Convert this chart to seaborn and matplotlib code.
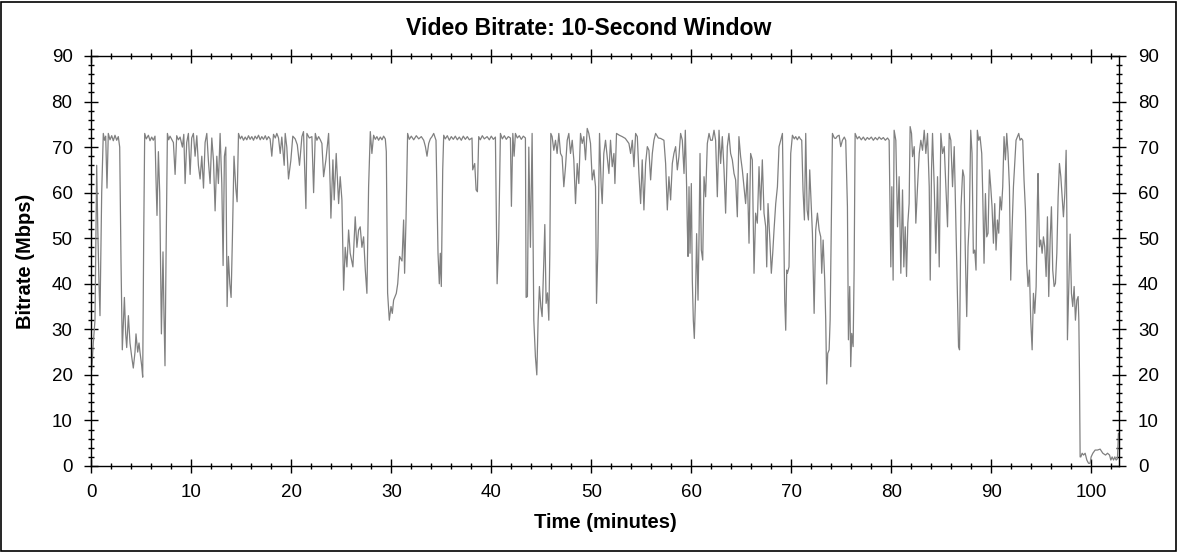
import matplotlib
matplotlib.use("Agg")
import matplotlib.pyplot as plt
from matplotlib.patches import Rectangle
from matplotlib.ticker import MultipleLocator
import pandas as pd
import seaborn as sns

TITLE = "Video Bitrate: 10-Second Window"
X_LABEL = "Time (minutes)"
Y_LABEL = "Bitrate (Mbps)"

# (minute, Mbps), one list per stretch of the trace
seg_0_17 = [
    (0.04, 21), (0.2, 27), (0.37, 32), (0.54, 66), (0.65, 52), (0.77, 40), (0.87, 33), (1.04, 60),
    (1.2, 73), (1.32, 71.5), (1.44, 72.4), (1.57, 61), (1.7, 73), (1.87, 71.6), (2.04, 72.5),
    (2.2, 71.4), (2.37, 72.6), (2.54, 71.5), (2.7, 72.3), (2.84, 70), (2.97, 45), (3.1, 25.5),
    (3.31, 37), (3.44, 29), (3.54, 26), (3.71, 33), (3.87, 27), (4.04, 24), (4.2, 21.5), (4.37, 25),
    (4.47, 29), (4.64, 25), (4.77, 27), (4.87, 25), (5.04, 22), (5.14, 19.5), (5.24, 50), (5.34, 73),
    (5.5, 71.8), (5.71, 72.6), (5.87, 71.4), (6.04, 72.2), (6.2, 71.5), (6.37, 72.4), (6.47, 63),
    (6.57, 55), (6.71, 69), (6.84, 60), (7.01, 29), (7.11, 40), (7.17, 47), (7.27, 33), (7.37, 22),
    (7.47, 45), (7.61, 73), (7.74, 71.6), (7.87, 72.4), (8.04, 71.7), (8.21, 71), (8.38, 64),
    (8.54, 72.5), (8.71, 71.6), (8.88, 72.2), (9.11, 70), (9.25, 72.8), (9.38, 62), (9.54, 71),
    (9.71, 73), (9.88, 64), (10.04, 72), (10.21, 73), (10.38, 68), (10.55, 72.5), (10.71, 66),
    (10.88, 63), (11.05, 68), (11.22, 61), (11.38, 71), (11.55, 73), (11.71, 67), (11.88, 62),
    (12.05, 72), (12.22, 67), (12.38, 56), (12.55, 68), (12.71, 62), (12.88, 73), (13.05, 62),
    (13.18, 44), (13.31, 68), (13.45, 70), (13.58, 35), (13.71, 46), (13.85, 40), (13.98, 37),
    (14.11, 50), (14.27, 68), (14.45, 61), (14.58, 58), (14.72, 73), (14.9, 71.8), (15.05, 72.4),
    (15.22, 71.5), (15.39, 72.2), (15.55, 71.6), (15.72, 72.5), (15.88, 71.7), (16.05, 72.3),
    (16.22, 71.5), (16.38, 72.4), (16.55, 71.8), (16.72, 72.6), (16.89, 71.6), (17.05, 72.3),
    (17.22, 71.7), (17.4, 72.5), (17.55, 71.6), (17.72, 72.3), (17.88, 71.8),
]

seg_18_34 = [
    (18.05, 68), (18.22, 72.8), (18.4, 72), (18.55, 73), (18.72, 72), (18.89, 68.6), (19.05, 72.2),
    (19.29, 66), (19.39, 73), (19.55, 70), (19.72, 63), (19.95, 67), (20.15, 72.4), (20.39, 71.8),
    (20.6, 70.5), (20.82, 66), (21.06, 72.3), (21.22, 73.4), (21.46, 56.5), (21.56, 73), (21.8, 72),
    (22.06, 72.3), (22.23, 60), (22.4, 73), (22.56, 71.5), (22.73, 72.3), (22.9, 71.6), (23.06, 70.8),
    (23.23, 63.5), (23.46, 67.2), (23.73, 73), (23.89, 61.3), (23.96, 54.4), (24.16, 67.2),
    (24.29, 58.4), (24.49, 68.6), (24.73, 57.6), (24.89, 63.5), (25.06, 58.4), (25.23, 38.6),
    (25.39, 48), (25.56, 43.7), (25.73, 51.8), (25.89, 46.7), (26.16, 43.7), (26.39, 54.7),
    (26.56, 48), (26.73, 51.8), (26.89, 52.5), (27.06, 48), (27.23, 50.3), (27.4, 43), (27.56, 37.9),
    (27.73, 61.3), (27.9, 73.4), (28.06, 68.6), (28.23, 72.6), (28.4, 71.7), (28.56, 72.3),
    (28.73, 71.5), (28.9, 72.2), (29.07, 71.6), (29.23, 72.4), (29.4, 71.8), (29.5, 69), (29.63, 38),
    (29.8, 32), (29.97, 35), (30.1, 33.5), (30.23, 36.4), (30.5, 37.9), (30.64, 40), (30.83, 46),
    (31.07, 45), (31.23, 54), (31.33, 42.3), (31.47, 54), (31.63, 73), (31.8, 71.7), (32.0, 72.4),
    (32.24, 71.6), (32.5, 72.5), (32.74, 71.8), (33.0, 72.3), (33.24, 71.5), (33.41, 70.1),
    (33.57, 68), (33.74, 70.8), (33.9, 71.8), (34.07, 72.3), (34.24, 73), (34.47, 71.5),
]

seg_35_51 = [
    (34.67, 46.7), (34.8, 40), (34.9, 46.7), (35.0, 39.4), (35.14, 65), (35.24, 72.6), (35.4, 71.8),
    (35.6, 72.5), (35.8, 71.5), (36.0, 72.3), (36.2, 71.7), (36.4, 72.4), (36.6, 71.6), (36.8, 72.2),
    (37.0, 71.5), (37.2, 72.4), (37.4, 71.7), (37.6, 72.3), (37.8, 71.6), (38.07, 72), (38.14, 65),
    (38.34, 66.4), (38.48, 60.6), (38.61, 60.2), (38.74, 72.3), (38.9, 71.6), (39.1, 72.5),
    (39.3, 71.8), (39.58, 72.3), (39.8, 71.6), (40.0, 72.4), (40.2, 71.7), (40.41, 72.2),
    (40.47, 61), (40.58, 40), (40.74, 50), (40.91, 73), (41.1, 71.8), (41.3, 72.5), (41.5, 71.7),
    (41.7, 72.3), (41.91, 72), (42.01, 57), (42.15, 73), (42.28, 68), (42.41, 73), (42.6, 72),
    (42.8, 72.5), (43.0, 71.7), (43.2, 72.4), (43.41, 72), (43.48, 37), (43.61, 37.2), (43.75, 70),
    (43.91, 48), (44.08, 73), (44.25, 32), (44.41, 24), (44.55, 20), (44.68, 32), (44.81, 39.4),
    (44.95, 35), (45.08, 32.8), (45.25, 45), (45.35, 53), (45.48, 35.7), (45.62, 38), (45.75, 32),
    (45.85, 46.7), (45.95, 73), (46.08, 72.3), (46.25, 69.3), (46.42, 71.5), (46.58, 68.6),
    (46.75, 73), (46.92, 68.6), (47.08, 67.9), (47.25, 61.3), (47.42, 65.7), (47.59, 71.5),
    (47.75, 73), (47.92, 68.6), (48.09, 71.5), (48.25, 67.2), (48.42, 57.6), (48.59, 66.4),
    (48.75, 62), (48.92, 73), (49.09, 70.8), (49.25, 72.3), (49.42, 67.2), (49.59, 74.1),
    (49.75, 73), (49.92, 70.8), (50.09, 62.8), (50.26, 65), (50.42, 61.3), (50.52, 35.7),
    (50.66, 48.1), (50.82, 73), (50.99, 61.3), (51.09, 57.6), (51.25, 68.6), (51.42, 71.5),
    (51.59, 67.9), (51.76, 64.2),
]

seg_52_69 = [
    (51.92, 71.5), (52.09, 65.7), (52.26, 68.6), (52.36, 62), (52.52, 73), (52.8, 72.6),
    (53.09, 72.3), (53.4, 71.9), (53.76, 70.8), (53.93, 68.6), (54.1, 71.5), (54.26, 65.7),
    (54.43, 73), (54.6, 72.3), (54.76, 64.2), (54.93, 57.6), (55.09, 67.2), (55.26, 56.2),
    (55.43, 66.4), (55.6, 70.1), (55.76, 69.3), (55.93, 62.8), (56.1, 68.6), (56.26, 71.5),
    (56.43, 73), (56.7, 72), (56.93, 71.9), (57.26, 71.5), (57.43, 66.4), (57.6, 56.2), (57.76, 63.5),
    (57.93, 58.4), (58.1, 66.4), (58.26, 68.6), (58.43, 70.1), (58.6, 65), (58.76, 67.9), (58.93, 73),
    (59.1, 71.5), (59.27, 64.2), (59.4, 73.7), (59.53, 61.3), (59.6, 52.5), (59.67, 46),
    (59.77, 61.3), (59.87, 46.7), (60.0, 62), (60.1, 40.8), (60.2, 32), (60.3, 28), (60.43, 37.9),
    (60.53, 51), (60.67, 36.4), (60.77, 50.3), (60.87, 68.6), (61.0, 47.4), (61.14, 45.2),
    (61.27, 63.5), (61.43, 59.1), (61.6, 70.8), (61.77, 73), (61.93, 71.5), (62.1, 71.5),
    (62.27, 73.7), (62.43, 71.5), (62.6, 59.1), (62.77, 73.7), (62.93, 66.4), (63.1, 72.3),
    (63.27, 65), (63.43, 55.5), (63.6, 70.1), (63.76, 73), (63.93, 68.6), (64.1, 67.2), (64.27, 64.2),
    (64.43, 62.8), (64.6, 54.7), (64.76, 72.3), (64.93, 67.9), (65.1, 65), (65.27, 61.3),
    (65.43, 57.6), (65.6, 64.2), (65.77, 48.9), (65.93, 68.6), (66.1, 67.2), (66.27, 42.3),
    (66.43, 55.5), (66.6, 53.3), (66.77, 65.7), (66.93, 56.2), (67.1, 67.2), (67.27, 55.5),
    (67.44, 52.5), (67.54, 43.7), (67.67, 57.6), (67.87, 48.9), (68.0, 42.3), (68.14, 46.7),
    (68.27, 51.8), (68.44, 57.6), (68.61, 61.3), (68.77, 70.1), (68.94, 71.5), (69.11, 73),
    (69.21, 56.9), (69.27, 48.1), (69.34, 36.4), (69.44, 29.8), (69.54, 43),
]

seg_70_86 = [
    (69.61, 42.3), (69.77, 43.7), (69.94, 68.6), (70.11, 72.6), (70.3, 71.8), (70.44, 72.3),
    (70.6, 71.6), (70.77, 72.3), (70.9, 71.8), (71.04, 71.5), (71.17, 60.5), (71.31, 54),
    (71.44, 73), (71.58, 56.2), (71.71, 54), (71.84, 65), (71.98, 57.6), (72.11, 51.1), (72.28, 33.5),
    (72.44, 51.8), (72.61, 55.5), (72.78, 51.8), (72.94, 50.3), (73.04, 42.3), (73.18, 49.6),
    (73.34, 40.8), (73.44, 32), (73.54, 18), (73.64, 24.7), (73.78, 25.5), (73.88, 32), (73.98, 50.3),
    (74.11, 73), (74.3, 72), (74.44, 71.9), (74.6, 72.4), (74.78, 72.6), (74.94, 70.1), (75.11, 71.5),
    (75.3, 72.2), (75.44, 71.5), (75.61, 56.9), (75.71, 27.7), (75.84, 39.4), (75.94, 21.8),
    (76.04, 29.1), (76.18, 26.2), (76.28, 43), (76.38, 73), (76.6, 71.8), (76.78, 72.3), (77.0, 71.6),
    (77.2, 72.2), (77.4, 71.5), (77.6, 72.1), (77.78, 71.7), (78.0, 72.2), (78.2, 71.5), (78.4, 72.1),
    (78.6, 71.6), (78.78, 72.2), (79.0, 71.7), (79.2, 72.1), (79.4, 71.5), (79.62, 72), (79.78, 71.5),
    (79.95, 43.7), (80.05, 61.3), (80.18, 40.8), (80.28, 73.7), (80.45, 71.5), (80.62, 52.5),
    (80.78, 63.5), (80.95, 42.3), (81.12, 60.6), (81.25, 43.7), (81.39, 52.5), (81.52, 41.6),
    (81.65, 53.3), (81.78, 57.6), (81.88, 74.5), (82.02, 73), (82.12, 67.9), (82.29, 70.1),
    (82.45, 53.3), (82.62, 61.3), (82.79, 68.6), (82.95, 71.5), (83.12, 69.3), (83.29, 73.7),
    (83.45, 68.6), (83.62, 73), (83.79, 61.3), (83.89, 40.8), (84.02, 65), (84.12, 73), (84.29, 61.3),
    (84.45, 46.7), (84.62, 63.5), (84.79, 43.7), (84.95, 73), (85.12, 68.6), (85.29, 70.1),
    (85.45, 61.3), (85.62, 52.5), (85.79, 73), (85.95, 71.5), (86.12, 61.3), (86.29, 70.1),
    (86.45, 54), (86.62, 36.4), (86.72, 26.2), (86.82, 25.5),
]

seg_87_end = [
    (86.97, 57), (87.14, 65), (87.27, 63.5), (87.4, 46.7), (87.54, 32.8), (87.67, 48.1), (87.8, 54),
    (87.94, 73.7), (88.07, 68.6), (88.2, 46.7), (88.34, 47.4), (88.47, 43), (88.6, 73.7),
    (88.74, 71.5), (88.87, 72.3), (89.04, 68.6), (89.14, 59.8), (89.27, 44.5), (89.41, 59.8),
    (89.54, 50.3), (89.67, 51.1), (89.81, 65), (89.94, 61.3), (90.07, 56.9), (90.21, 48.9),
    (90.34, 57.6), (90.47, 47.4), (90.61, 54), (90.74, 51.1), (90.87, 59.1), (91.01, 56.2),
    (91.14, 61.3), (91.27, 72.3), (91.41, 67.2), (91.54, 73), (91.67, 68.6), (91.81, 61.3),
    (91.94, 40.8), (92.07, 51.8), (92.21, 61.3), (92.34, 66.4), (92.47, 71.5), (92.61, 72.3),
    (92.74, 73), (92.87, 71.5), (93.01, 71.9), (93.14, 71.5), (93.27, 62.8), (93.41, 56.2),
    (93.54, 44.5), (93.67, 39.4), (93.81, 43), (93.94, 32), (94.08, 25.5), (94.21, 37.9),
    (94.34, 33.5), (94.48, 39.4), (94.61, 58.4), (94.67, 64.2), (94.81, 48.1), (94.94, 49.6),
    (95.08, 46.7), (95.21, 50.3), (95.34, 48.1), (95.48, 41.6), (95.61, 54.7), (95.74, 37.2),
    (95.88, 49.6), (96.01, 56.9), (96.14, 43), (96.28, 39.4), (96.41, 40.1), (96.55, 46.7),
    (96.68, 59.1), (96.81, 66.4), (96.95, 63.5), (97.08, 59.1), (97.21, 54.7), (97.35, 59.8),
    (97.48, 69.3), (97.55, 55.5), (97.61, 27.7), (97.75, 39.4), (97.88, 50.9), (98.01, 37.9),
    (98.14, 35), (98.28, 39.4), (98.41, 32), (98.55, 36.4), (98.68, 37.2), (98.75, 32), (98.81, 21),
    (98.88, 2), (98.95, 2), (99.08, 2.8), (99.22, 2.4), (99.38, 2.8), (99.55, 1.3), (99.72, 0.6),
    (99.88, 0.6), (99.98, 2), (100.15, 2.8), (100.38, 3.5), (100.61, 3.5), (100.88, 3.7),
    (101.15, 2.8), (101.42, 2.4), (101.62, 2.8), (101.82, 2.4), (101.95, 1.3), (102.08, 2),
    (102.22, 1.3), (102.35, 2), (102.48, 1.3), (102.61, 1.6), (102.71, 7.2),
]

X_MAX = 102.8
Y_MAX = 90


def main():
    rows = seg_0_17 + seg_18_34 + seg_35_51 + seg_52_69 + seg_70_86 + seg_87_end
    df = pd.DataFrame(rows, columns=["minute", "mbps"])

    sns.set_theme(style="ticks")
    plt.rcParams["font.family"] = ["Liberation Sans", "DejaVu Sans"]

    fig = plt.figure(figsize=(11.78, 5.52), dpi=100)
    ax = fig.add_axes([0.0775, 0.1558, 0.8727, 0.7428])

    sns.lineplot(data=df, x="minute", y="mbps", ax=ax, color="#808080",
                 linewidth=0.9, estimator=None, sort=False)

    ax.set_xlim(0, X_MAX)
    ax.set_ylim(0, Y_MAX)
    ax.xaxis.set_major_locator(MultipleLocator(10))
    ax.xaxis.set_minor_locator(MultipleLocator(2))
    ax.yaxis.set_major_locator(MultipleLocator(10))
    ax.yaxis.set_minor_locator(MultipleLocator(2))

    for side in ["left", "right", "top", "bottom"]:
        ax.spines[side].set_visible(True)
        ax.spines[side].set_color("black")
        ax.spines[side].set_linewidth(1.0)

    ax.tick_params(which="both", left=True, right=True, bottom=True, top=True,
                   labelright=True, labelleft=True, color="black", width=1.0,
                   labelsize=13.5, labelcolor="black")
    ax.tick_params(which="major", direction="inout", length=10, pad=8.5)
    ax.tick_params(which="minor", direction="inout", length=5)
    ax.tick_params(axis="x", which="major", pad=8)

    ax.set_xlabel(X_LABEL, fontsize=14.5, fontweight="bold", color="black")
    ax.set_ylabel(Y_LABEL, fontsize=14.5, fontweight="bold", color="black")
    ax.xaxis.label.set_va("center")
    ax.yaxis.label.set_va("center")
    ax.xaxis.set_label_coords(0.5, -0.139)
    ax.yaxis.set_label_coords(-0.064, 0.5)

    # title is centred on the whole figure, not on the axes
    fig.text(0.5, 0.949, TITLE, fontsize=16.6, fontweight="bold", color="black",
             ha="center", va="center")

    fig.patches.append(Rectangle((0.001, 0.002), 0.997, 0.995, transform=fig.transFigure,
                                 fill=False, edgecolor="black", linewidth=1.2))

    fig.savefig("out.png", dpi=100, facecolor="white")
    plt.close(fig)


if __name__ == "__main__":
    main()
